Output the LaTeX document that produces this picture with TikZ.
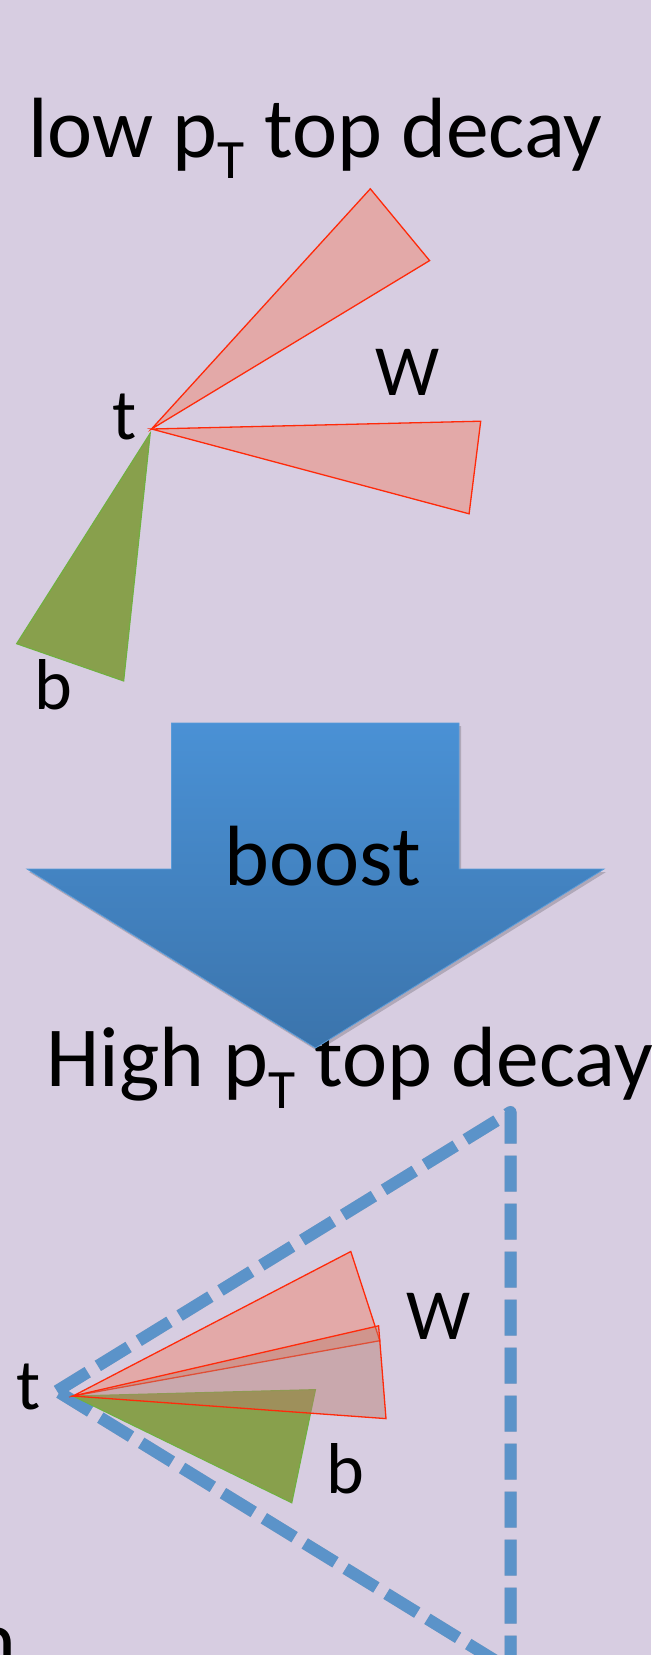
\documentclass[tikz,border=0pt]{standalone}
\usepackage{fontspec}
\setmainfont{Carlito}
\definecolor{bgcol}{HTML}{D7CDE1}
\definecolor{jetpink}{HTML}{E3A9A8}
\definecolor{jetred}{HTML}{FF2A0A}
\definecolor{jetgreen}{HTML}{88A04C}
\definecolor{jetgreenedge}{HTML}{70B040}
\definecolor{coneblue}{HTML}{5B93C9}
\definecolor{arrtop}{HTML}{4A91D5}
\definecolor{arrbot}{HTML}{3B74AC}
\definecolor{arredge}{HTML}{5A9BD8}
\definecolor{wmix}{HTML}{B97D6E}
\begin{document}
\begin{tikzpicture}[x=1pt,y=-1pt,
  redjet/.style={fill=jetpink,draw=jetred,line width=1.3pt},
  mixjet/.style={fill=wmix,fill opacity=.45,draw=jetred,draw opacity=1,line width=1.3pt},
  greenjet/.style={fill=jetgreen,draw=jetgreenedge,line width=1.1pt},
  lbl/.style={inner sep=0pt,anchor=base,font=\fontsize{72}{80}\selectfont},
  title/.style={inner sep=0pt,anchor=base west,font=\fontsize{85.5}{100}\selectfont},
  cone/.style={draw=coneblue,line width=12pt,dash pattern=on 36pt off 12pt,line join=round}]
\fill[bgcol] (0,0) rectangle (651,1655);
\useasboundingbox (0,0) rectangle (651,1655);
\clip (0,0) rectangle (651,1655);

% ---------- low pT ----------
\node[title] (lowtitle) at (28,157) {low p\raisebox{-0.25em}{\fontsize{55.5}{60}\selectfont T} top decay};

\coordinate (ta) at (151.5,429);
\filldraw[redjet] (ta) -- (370.3,188.8) -- (429.6,260.6) -- cycle;
\filldraw[redjet] (ta) -- (480.7,421.2) -- (469.1,513.8) -- cycle;
\filldraw[greenjet] (150.3,433) -- (16.6,643.7) -- (123.7,681) -- cycle;

\node[lbl] (tlabA) at (124.5,439) {t};
\node[lbl] (wlabA) at (408,395.5) {W};
\node[lbl] (blabA) at (53,709) {b};

% ---------- High pT title ----------
\node[title] (hightitle) at (46,1086.7) {High p\raisebox{-0.25em}{\fontsize{55.5}{60}\selectfont T} top decay};

% ---------- boost arrow ----------
\fill[black,opacity=.18,shift={(2,3)}] (171.5,723) -- (459,723) -- (459,869) -- (604,869) -- (315.5,1048) -- (27,869) -- (171.5,869) -- cycle;
\shade[top color=arrtop,bottom color=arrbot] (171.5,723) -- (459,723) -- (459,869) -- (604,869) -- (315.5,1048) -- (27,869) -- (171.5,869) -- cycle;
\draw[arredge,line width=.8pt] (171.5,723) -- (459,723) -- (459,869) -- (604,869) -- (315.5,1048) -- (27,869) -- (171.5,869) -- cycle;
\node[title,anchor=base] (boost) at (323,885) {boost};

% ---------- high pT decay ----------
\coordinate (tb) at (57,1391);
\coordinate (ctop) at (510.5,1112);
\coordinate (cbot) at (510.5,1670);
\draw[cone,draw=black,opacity=.15,shift={(1.5,2.5)}] (tb) -- (ctop) -- (cbot) -- cycle;
\draw[cone] (tb) -- (ctop) -- (cbot) -- cycle;

\coordinate (tc) at (73,1396);
\filldraw[greenjet] (tc) -- (315.5,1389.6) -- (291.8,1502.8) -- cycle;
\filldraw[redjet] (tc) -- (350.8,1251.5) -- (379.8,1340.7) -- cycle;
\filldraw[mixjet] (tc) -- (378.6,1325.8) -- (386,1418.6) -- cycle;

\node[lbl] (tlabB) at (29,1409.7) {t};
\node[lbl] (wlabB) at (439,1339) {W};
\node[lbl] (blabB) at (345.5,1493) {b};

\node[title] (nfrag) at (-29,1669) {n};
\end{tikzpicture}
\end{document}
